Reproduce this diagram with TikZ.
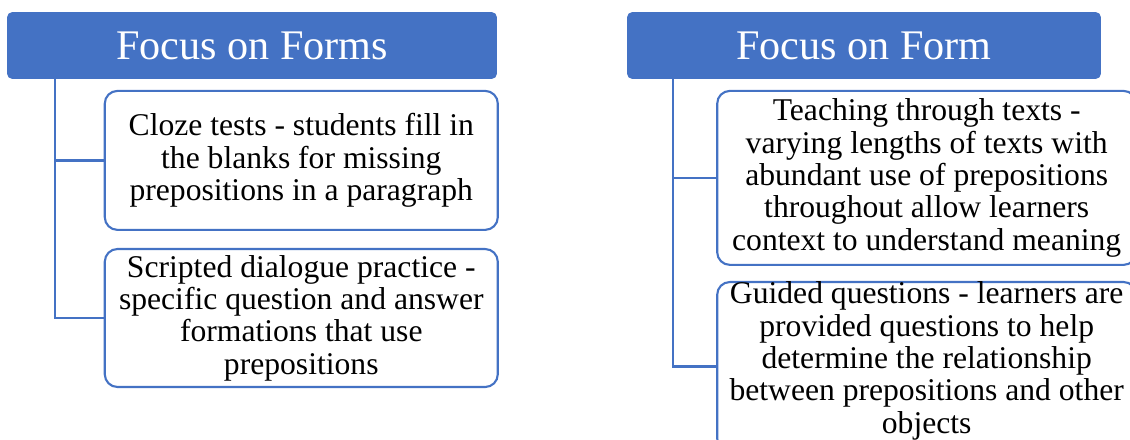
\documentclass[tikz,border=0pt]{standalone}
\usepackage{fontspec}
\setmainfont{Liberation Serif}
\usepackage{tikz}
\usetikzlibrary{positioning}
\definecolor{headblue}{RGB}{68, 114, 196}

\begin{document}
\begin{tikzpicture}[
        % --- TikZ Styles ---
        headbox/.style={
            draw=headblue, fill=headblue, text=white, line width=1.2pt,
            minimum height=1.625cm, rounded corners=3pt, align=center,
            font=\fontsize{30}{32}\selectfont, inner sep=2pt
        },
        leafbox/.style={
            draw=headblue, fill=white, line width=1.5pt, rounded corners=9pt,
            align=center, font=\fontsize{22.5}{23}\selectfont,
            inner xsep=1pt, inner ysep=0pt
        },
        link/.style={draw=headblue, line width=1.9pt}
    ]

    % --- frame ---
    \path[use as bounding box] (0,0) rectangle (28.25,-11);
    \clip (0,0) rectangle (28.25,-11);

    % --- 1. FOCUS ON FORMS ---
    \node[headbox, minimum width=12.2cm] at (6.3,-1.1375) (formsHead) {Focus on Forms};

    \node[leafbox, minimum width=9.825cm, minimum height=3.475cm,
          below=0.275cm of formsHead.south east, anchor=north east, xshift=0.05cm] (cloze) {
        Cloze tests - students fill in\\
        the blanks for missing\\
        prepositions in a paragraph
    };

    \node[leafbox, minimum width=9.825cm, minimum height=3.45cm, below=0.425cm of cloze] (dialogue) {
        Scripted dialogue practice -\\
        specific question and answer\\
        formations that use\\
        prepositions
    };

    % --- 2. FOCUS ON FORM ---
    \node[headbox, minimum width=11.8cm] at (21.6,-1.1375) (formHead) {Focus on Form};

    \node[leafbox, minimum width=10.475cm, minimum height=4.35cm,
          below=0.275cm of formHead.south west, anchor=north west, xshift=2.225cm] (texts) {
        Teaching through texts -\\
        varying lengths of texts with\\
        abundant use of prepositions\\
        throughout allow learners\\
        context to understand meaning
    };

    \node[leafbox, minimum width=10.475cm, text depth=0.45cm, below=0.375cm of texts] (guided) {
        Guided questions - learners are\\
        provided questions to help\\
        determine the relationship\\
        between prepositions and other\\
        objects
    };

% --- CONNECTIONS ---
    \draw[link] ([xshift=1.2cm]formsHead.south west) |- (cloze.west);
    \draw[link] ([xshift=1.2cm]formsHead.south west) |- (dialogue.west);

    \draw[link] ([xshift=1.15cm]formHead.south west) |- (texts.west);
    \draw[link] ([xshift=1.15cm]formHead.south west) |- (guided.west);

    \end{tikzpicture}
\end{document}
